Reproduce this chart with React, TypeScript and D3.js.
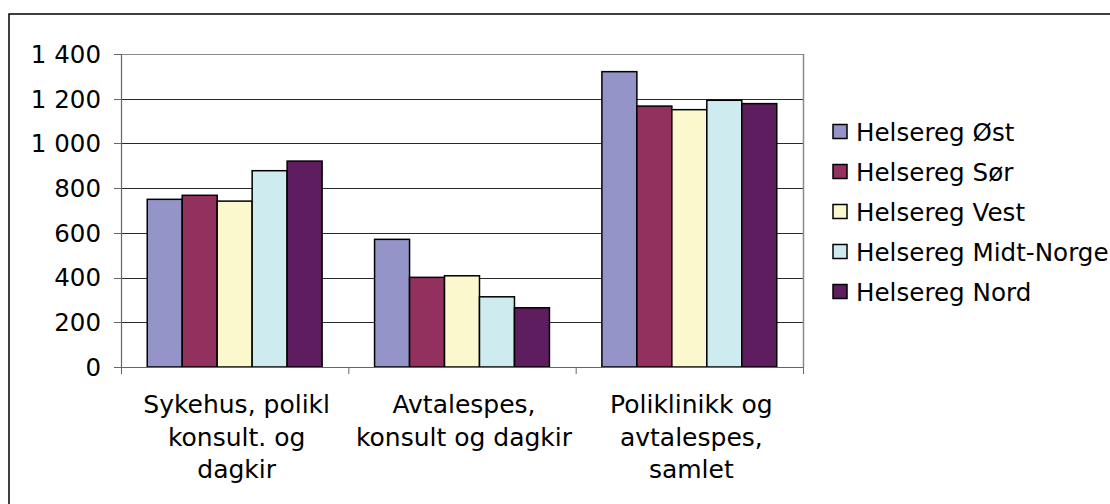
import React from "react";
import * as d3 from "d3";

const categories: string[][] = [
  ["Sykehus, polikl", "konsult. og", "dagkir"],
  ["Avtalespes,", "konsult og dagkir"],
  ["Poliklinikk og", "avtalespes,", "samlet"],
];
const seriesNames = [
  "Helsereg Øst",
  "Helsereg Sør",
  "Helsereg Vest",
  "Helsereg Midt-Norge",
  "Helsereg Nord",
];
const ost = [750, 571, 1321];
const sor = [768, 401, 1167];
const vest = [742, 408, 1151];
const midt = [878, 314, 1193];
const nord = [921, 265, 1178];
const seriesValues = [ost, sor, vest, midt, nord];
const colors = ["#9494C8", "#93315E", "#FAF8CC", "#CEEBF0", "#5E1D5F"];
const yTicks = [0, 200, 400, 600, 800, 1000, 1200, 1400];

const W = 1110;
const H = 504;
const plot = { left: 121, right: 803, top: 54, bottom: 367 };
const FONT = "'DejaVu Sans', Verdana, sans-serif";

export default function App() {
  const y = d3.scaleLinear().domain([0, 1400]).range([plot.bottom, plot.top]);
  const x0 = d3
    .scaleBand<number>()
    .domain(categories.map((_, i) => i))
    .range([plot.left, plot.right])
    .paddingInner(0)
    .paddingOuter(0);
  const bw = x0.bandwidth();
  const barW = bw / 6.5;
  const groupOffset = (bw - barW * 5) / 2;
  const fmt = d3.formatLocale({ decimal: ",", thousands: " ", grouping: [3], currency: ["", ""] }).format(",d");

  return (
    <svg
      width={W}
      height={H}
      style={{ position: "absolute", left: 0, top: 0, background: "#fff" }}
      fontFamily={FONT}
    >
      <rect x={9} y={14} width={1300} height={700} fill="#fff" stroke="#000" strokeWidth={1.5} />
      {yTicks.map((t) => (
        <line
          key={"g" + t}
          x1={plot.left}
          x2={plot.right}
          y1={Math.round(y(t)) + 0.5}
          y2={Math.round(y(t)) + 0.5}
          stroke={t === 1400 ? "#8a8a8a" : "#2a2a2a"}
          strokeWidth={1}
        />
      ))}
      <line x1={plot.right + 0.5} x2={plot.right + 0.5} y1={plot.top} y2={plot.bottom} stroke="#8a8a8a" strokeWidth={1.5} />
      {seriesValues.map((vals, s) =>
        vals.map((v, c) => (
          <rect
            key={`b${s}-${c}`}
            x={(x0(c) as number) + groupOffset + s * barW}
            y={y(v)}
            width={barW}
            height={y(0) - y(v)}
            fill={colors[s]}
            stroke="#000"
            strokeWidth={1.5}
          />
        ))
      )}
      <line x1={plot.left + 0.5} x2={plot.left + 0.5} y1={plot.top} y2={plot.bottom + 1} stroke="#666" strokeWidth={1.2} />
      {yTicks.map((t) => (
        <g key={"t" + t}>
          <line
            x1={plot.left - 7}
            x2={plot.left}
            y1={Math.round(y(t)) + 0.5}
            y2={Math.round(y(t)) + 0.5}
            stroke="#666"
          />
          <text x={101} y={y(t)} dy="0.36em" textAnchor="end" fontSize={24.5} fill="#000">
            {fmt(t)}
          </text>
        </g>
      ))}
      <line x1={plot.left} x2={plot.right} y1={plot.bottom + 0.5} y2={plot.bottom + 0.5} stroke="#666" strokeWidth={1.2} />
      {[0, 1, 2, 3].map((i) => {
        const xx = plot.left + i * bw;
        return <line key={"xt" + i} x1={xx + 0.5} x2={xx + 0.5} y1={plot.bottom} y2={plot.bottom + 7} stroke="#666" />;
      })}
      {categories.map((lines, c) => (
        <text
          key={"c" + c}
          x={(x0(c) as number) + bw / 2}
          y={413}
          textAnchor="middle"
          fontSize={25}
          fill="#000"
        >
          {lines.map((ln, k) => (
            <tspan key={k} x={(x0(c) as number) + bw / 2 + 2} y={413 + k * 32.5}>
              {ln}
            </tspan>
          ))}
        </text>
      ))}
      {seriesNames.map((n, i) => {
        const cy = 132 + i * 40;
        return (
          <g key={"l" + i}>
            <rect x={833} y={cy - 7.5} width={14} height={14} fill={colors[i]} stroke="#000" strokeWidth={1.5} />
            <text x={856} y={cy} dy="0.36em" fontSize={24.6} fill="#000">
              {n}
            </text>
          </g>
        );
      })}
    </svg>
  );
}
